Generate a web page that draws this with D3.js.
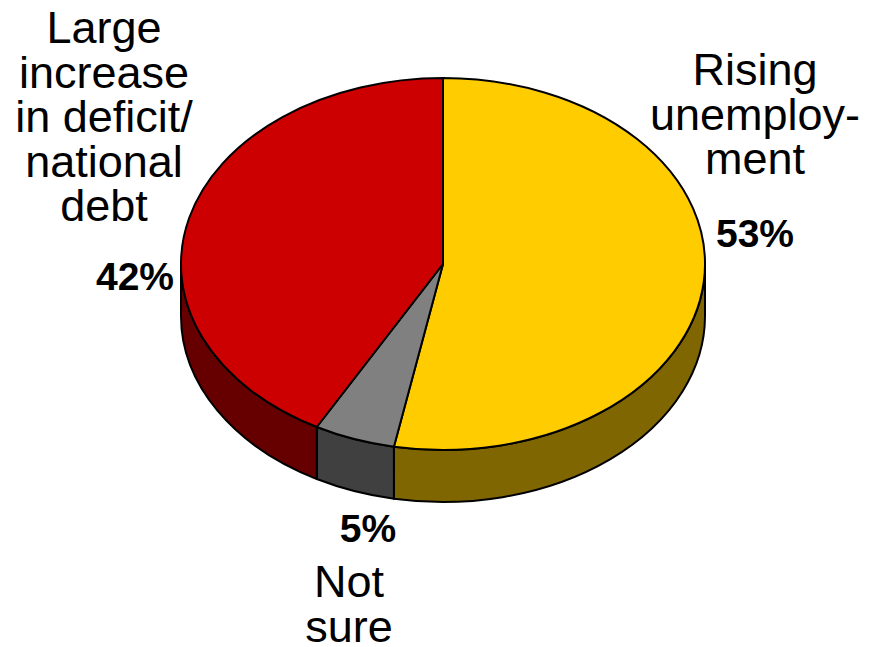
<!DOCTYPE html>
<html>
<head>
<meta charset="utf-8">
<script src="https://cdn.jsdelivr.net/npm/d3@7"></script>
<style>
  html, body { margin: 0; padding: 0; background: #ffffff; }
  svg { display: block; }
  text { font-family: "Liberation Sans", Arial, Helvetica, sans-serif; fill: #000; }
</style>
</head>
<body>
<svg id="chart" width="869" height="647"></svg>
<script>
// Survey shares, clockwise from 12 o'clock
const categories = ["Rising unemployment", "Not sure", "Large increase in deficit/national debt"];
const values = [53, 5, 42];
const labelLines = [
  ["Rising", "unemploy-", "ment"],
  ["Not", "sure"],
  ["Large", "increase", "in deficit/", "national", "debt"]
];

// Face and wall colours per slice
const topColors = ["#ffcc00", "#808080", "#cc0000"];
const sideColors = ["#806600", "#404040", "#660000"];

// Label placement: centre x, baseline of the name's first line, baseline of the percentage
const labelLayout = [
  { x: 755, nameY: 85, pctX: 755, pctY: 247 },
  { x: 349, nameY: 597, pctX: 368, pctY: 542 },
  { x: 104, nameY: 43, pctX: 135, pctY: 290 }
];

const W = 869, H = 647;
const cx = 443, cy = 264, rx = 262, ry = 186, depth = 52;
const lineGap = 44.5;

const svg = d3.select("#chart");

const pie = d3.pie().sort(null).value(d => d)
  .startAngle(0).endAngle(2 * Math.PI);
const arcs = pie(values);

// Point on the ellipse for a pie angle (0 = top, clockwise)
const px = a => cx + rx * Math.sin(a);
const py = a => cy - ry * Math.cos(a);

function topPath(a0, a1) {
  const large = (a1 - a0) > Math.PI ? 1 : 0;
  return `M${cx},${cy}L${px(a0)},${py(a0)}` +
    `A${rx},${ry} 0 ${large} 1 ${px(a1)},${py(a1)}Z`;
}

function wallPath(a0, a1) {
  const large = (a1 - a0) > Math.PI ? 1 : 0;
  return `M${px(a0)},${py(a0)}` +
    `A${rx},${ry} 0 ${large} 1 ${px(a1)},${py(a1)}` +
    `L${px(a1)},${py(a1) + depth}` +
    `A${rx},${ry} 0 ${large} 0 ${px(a0)},${py(a0) + depth}Z`;
}

// Front-facing walls (only the lower half of the rim is visible)
const frontLo = Math.PI / 2, frontHi = 3 * Math.PI / 2;
const walls = arcs.map((d, i) => {
  const a0 = Math.max(d.startAngle, frontLo);
  const a1 = Math.min(d.endAngle, frontHi);
  return { i, a0, a1 };
}).filter(w => w.a1 > w.a0);

svg.append("g").attr("class", "walls")
  .selectAll("path")
  .data(walls)
  .join("path")
  .attr("d", w => wallPath(w.a0, w.a1))
  .attr("fill", w => sideColors[w.i])
  .attr("stroke", "#000")
  .attr("stroke-width", 2)
  .attr("stroke-linejoin", "round");

svg.append("g").attr("class", "tops")
  .selectAll("path")
  .data(arcs)
  .join("path")
  .attr("d", d => topPath(d.startAngle, d.endAngle))
  .attr("fill", (d, i) => topColors[i])
  .attr("stroke", "#000")
  .attr("stroke-width", 2)
  .attr("stroke-linejoin", "round");

// Category names
const labels = svg.append("g").attr("class", "labels");
labelLines.forEach((lines, i) => {
  const L = labelLayout[i];
  const t = labels.append("text")
    .attr("text-anchor", "middle")
    .attr("font-size", 45);
  lines.forEach((ln, k) => {
    t.append("tspan")
      .attr("x", L.x)
      .attr("y", L.nameY + k * lineGap)
      .text(ln);
  });
});

// Percentages
labels.selectAll("text.pct")
  .data(arcs)
  .join("text")
  .attr("class", "pct")
  .attr("x", (d, i) => labelLayout[i].pctX)
  .attr("y", (d, i) => labelLayout[i].pctY)
  .attr("text-anchor", "middle")
  .attr("font-size", 39)
  .attr("font-weight", "bold")
  .text(d => d.data + "%");
</script>
</body>
</html>
